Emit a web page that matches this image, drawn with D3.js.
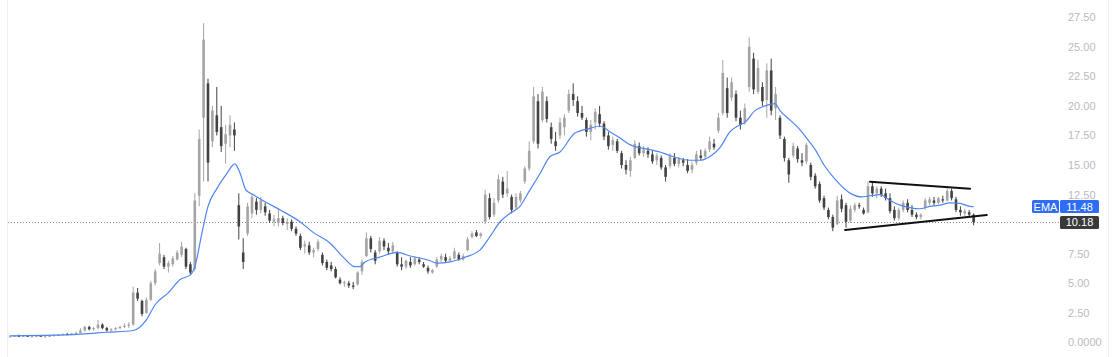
<!DOCTYPE html>
<html><head><meta charset="utf-8">
<script src="https://cdn.jsdelivr.net/npm/d3@7"></script>
<style>html,body{margin:0;padding:0;background:#fff;}svg{display:block;font-family:"Liberation Sans",Arial,sans-serif;}</style>
</head><body><svg id="c" width="1118" height="357"></svg>
<script>
const opens = [
.45,.5,.55,.5,.55,.5,.5,.55,.5,.5,
.55,.6,.65,.7,.65,.75,.8,1.0,1.3,1.1,
1.2,1.5,1.2,1.0,1.1,1.2,1.3,1.4,1.5,4.2,
3.5,2.5,3.6,5.0,6.7,7.2,6.4,6.6,7.0,7.4,
7.9,6.6,6.2,12.4,19.0,21.9,17.0,19.2,18.2,16.8,
17.5,18.0,11.6,7.6,9.2,10.9,11.9,11.2,11.5,10.9,
10.2,10.1,10.5,10.0,10.2,9.6,9.0,8.1,8.2,7.6,
7.9,7.4,6.8,6.5,6.2,5.3,5.0,5.0,4.8,4.9,
6.0,7.3,8.8,7.6,7.7,8.6,8.0,7.7,7.6,6.6,
6.4,6.8,6.6,7.0,6.6,6.3,5.9,6.4,7.0,7.2,
6.9,7.1,7.4,7.0,7.8,8.9,9.3,9.0,10.2,12.2,
10.8,12.0,13.6,12.6,12.3,11.4,12.0,13.6,14.7,17.0,
20.4,18.8,20.4,18.2,17.0,17.5,18.2,19.6,21.0,20.4,
19.4,18.8,17.8,18.6,19.3,18.5,17.5,16.7,17.0,16.0,
15.0,14.5,15.6,16.6,16.0,16.2,15.9,15.4,15.6,14.8,
14.9,15.6,15.1,15.4,15.0,14.6,15.2,15.8,15.7,16.3,
16.8,17.9,19.4,21.5,20.7,21.0,19.0,18.6,21.6,24.0,
21.2,21.6,20.5,23.0,19.8,19.0,17.2,15.4,15.8,16.4,
15.4,15.3,15.0,14.1,13.4,12.2,11.2,10.6,10.0,12.1,
11.6,10.3,11.2,11.6,11.2,11.0,13.2,12.6,13.0,12.6,
12.2,11.2,10.5,11.2,11.8,11.2,10.8,10.6,11.4,11.8,
12.0,11.8,12.1,12.0,12.8,12.1,11.2,10.9,11.0,10.8];
const highs = [
.6,.6,.65,.6,.6,.55,.6,.6,.55,.6,
.65,.7,.75,.8,.8,.9,1.2,1.4,1.4,1.3,
1.9,1.6,1.3,1.2,1.3,1.4,1.6,1.7,4.7,4.6,
3.6,3.8,5.2,6.2,8.4,7.4,6.9,7.3,7.8,8.5,
8.0,6.8,12.6,18.0,27.0,22.3,20.0,21.6,20.0,18.4,
19.2,18.6,12.6,8.8,11.8,12.6,12.2,12.3,11.8,11.2,
10.8,11.3,10.7,10.5,10.4,9.8,9.2,8.6,8.5,8.0,
8.7,7.6,7.0,6.8,6.4,5.5,5.2,5.2,5.1,6.0,
7.0,9.3,9.0,7.8,8.9,8.8,8.4,8.5,7.7,7.2,
7.0,7.2,7.3,7.2,6.8,6.5,6.2,7.2,7.5,7.5,
7.3,8.0,7.6,7.5,8.9,9.4,9.5,9.3,12.9,12.6,
12.2,14.2,14.0,14.5,12.5,12.6,12.8,14.9,17.0,21.6,
21.0,21.6,20.8,18.6,17.8,19.0,19.3,21.4,21.9,20.8,
20.0,19.0,18.8,19.8,20.0,18.7,17.8,17.4,17.2,16.2,
15.4,15.7,17.1,16.9,16.6,16.5,16.2,16.0,15.8,15.0,
16.0,16.0,15.7,15.6,15.5,15.3,16.2,16.3,16.4,17.4,
17.2,19.4,23.9,22.4,22.4,21.3,19.6,20.2,25.8,24.5,
23.9,22.0,23.6,24.0,21.6,19.2,17.4,15.6,16.9,16.6,
16.0,16.9,15.2,14.3,13.6,12.4,11.4,10.8,12.4,12.5,
11.8,11.6,11.8,11.8,11.4,13.6,13.5,13.2,13.2,13.0,
12.6,11.5,11.4,12.0,12.1,11.6,11.0,10.9,12.2,12.3,
12.3,12.3,12.4,13.0,13.0,12.3,11.5,11.3,11.2,10.9];
const lows = [
.4,.45,.5,.45,.45,.45,.45,.5,.45,.45,
.5,.55,.6,.6,.6,.7,.75,.9,1.0,1.0,
1.1,1.1,.9,.9,1.0,1.1,1.2,1.2,1.4,3.5,
2.2,2.4,3.5,4.8,6.5,6.2,5.9,6.4,6.9,7.2,
6.2,5.7,6.0,11.5,13.6,13.6,16.5,17.5,16.1,15.1,
16.5,16.2,8.7,6.2,9.0,10.5,10.8,10.9,10.7,10.1,
9.8,9.8,9.9,9.5,9.4,9.0,7.8,7.5,7.4,7.2,
7.7,6.5,6.1,6.0,5.4,4.9,4.7,4.6,4.5,4.8,
5.7,7.2,7.6,6.6,7.5,7.8,7.4,7.5,6.4,6.1,
6.2,6.3,6.5,6.6,6.3,5.8,5.8,6.3,6.8,6.7,
6.8,7.0,6.9,6.9,7.7,8.8,8.9,8.8,10.0,10.4,
10.6,11.8,12.2,12.3,10.9,11.2,11.8,13.4,14.5,16.8,
16.4,18.6,18.6,16.8,16.2,17.2,17.5,19.4,20.0,19.1,
18.8,17.4,17.1,18.0,18.2,17.1,16.3,16.2,16.0,14.7,
14.2,14.0,15.5,15.8,15.7,15.6,15.1,15.0,14.6,13.6,
14.7,14.9,14.8,14.9,14.3,14.3,15.0,15.4,15.5,16.1,
16.3,17.7,19.2,19.0,20.4,18.7,18.0,18.4,21.2,21.0,
21.0,20.0,19.0,19.2,18.8,17.2,15.3,13.5,15.6,15.2,
14.9,15.1,13.7,13.0,11.8,11.2,10.4,9.4,9.9,11.0,
9.7,10.1,11.0,11.3,10.8,10.9,12.3,12.2,12.3,12.0,
10.9,10.3,10.3,11.0,11.0,10.6,10.4,10.4,11.2,11.6,
11.6,11.7,11.8,11.9,12.0,11.0,10.7,10.7,10.6,9.9];
const closes = [
.5,.55,.5,.55,.5,.5,.55,.5,.5,.55,
.6,.65,.7,.65,.75,.8,1.0,1.3,1.1,1.2,
1.5,1.2,1.0,1.1,1.2,1.3,1.4,1.5,4.2,3.7,
2.4,3.6,5.0,6.0,7.5,6.4,6.7,7.1,7.6,8.1,
6.4,5.9,12.0,17.2,25.6,15.2,19.6,17.8,16.6,17.6,
18.4,17.5,9.8,6.8,11.5,12.3,11.2,12.0,11.0,10.3,
10.4,10.5,10.1,10.2,9.6,9.2,8.0,8.3,7.6,7.8,
8.5,6.7,6.3,6.2,5.5,5.0,5.1,4.8,4.7,5.9,
6.8,8.8,7.9,6.9,8.6,8.1,7.7,8.2,6.6,6.4,
6.9,6.5,7.1,6.8,6.4,6.0,6.1,7.0,7.3,6.9,
7.1,7.7,7.0,7.3,8.7,9.2,9.0,9.2,12.5,10.6,
11.8,13.8,12.5,13.0,11.2,12.3,12.6,14.7,16.2,20.8,
16.8,21.2,18.9,17.2,16.6,18.6,19.0,21.0,20.5,19.4,
19.0,17.8,18.4,19.5,18.5,17.4,16.6,17.1,16.2,15.0,
14.6,15.4,16.8,16.0,16.3,15.9,15.3,15.8,14.8,14.0,
15.8,15.1,15.5,15.2,14.5,15.0,15.9,15.6,16.2,17.0,
16.5,19.0,22.8,19.4,22.0,19.0,18.4,19.8,25.0,21.4,
23.2,20.4,23.0,19.6,21.0,17.5,15.6,14.2,16.6,15.5,
15.2,16.7,14.0,13.2,12.0,11.4,10.6,9.7,12.0,11.3,
10.2,11.3,11.6,11.5,10.9,13.2,12.6,13.0,12.5,12.2,
11.1,10.5,11.2,11.8,11.2,10.8,10.6,10.8,12.0,12.1,
11.8,12.2,12.0,12.8,12.2,11.2,11.0,11.1,10.8,10.18];

// EMA readings: candle index and value
const emaIndex = [0,10,16,22,28,31,33,36,38.6,41,42,43.6,45,47,49.3,51.1,52.3,53.6,55.2,58.4,61.4,65.9,68.9,72.7,76,78.4,79.5,80.7,84,88,91,95.5,97,100,103.4,106.8,109,111.4,113.6,115.9,117.7,120.5,122.7,125,128.4,131.8,134,136.4,138.6,141,145.5,147.7,150,154.5,156.8,159,161.4,163.6,165.9,167,169.3,171.6,173.9,175,177.3,179.5,181,183,185,187.5,191,193.6,195.5,197.7,200,202.3,204.5,206.8,209,211.4,213.6,215.9,218.2,219];
const emaValue = [0.55,0.6,0.7,0.85,1.0,1.9,3.2,4.2,5.3,5.7,6.4,9.2,11.5,13.0,14.3,15.1,14.3,12.9,12.5,11.8,11.2,10.2,9.3,8.4,7.1,6.4,6.4,6.8,7.2,7.6,7.3,6.9,6.7,6.8,7.2,7.8,8.9,10.2,10.9,11.5,12.6,14.3,15.7,16.1,17.7,18.1,18.3,17.8,17.3,16.7,16.3,16.1,15.8,15.4,15.4,15.7,16.5,17.8,18.4,18.6,19.6,20.0,20.2,19.6,18.8,18.0,17.3,16.3,15.0,13.8,12.6,12.3,12.4,12.5,12.0,11.6,11.4,11.3,11.5,11.6,11.8,11.75,11.5,11.48];

// Triangle trend lines (candle index, price)
const upperLineIndex = [195.45, 218.2];
const upperLineValue = [13.58, 13.0];
const lowerLineIndex = [189.8, 222];
const lowerLineValue = [9.5, 10.77];

// 10.00 is hidden behind the last-price tag in the reference
const yTicks = [0,2.5,5,7.5,12.5,15,17.5,20,22.5,25,27.5];
const yTickLabels = ["0.0000","2.50","5.00","7.50","12.50","15.00","17.50","20.00","22.50","25.00","27.50"];
const lastPrice = 10.18;
const emaLast = 11.48;

const svg = d3.select("#c");
const x = d3.scaleLinear().domain([0, closes.length-1]).range([10, 973.6]);
const y = d3.scaleLinear().domain([0, 27.5]).range([342.3, 17.25]);

// frame lines
svg.append("line").attr("x1",7.5).attr("x2",7.5).attr("y1",0).attr("y2",357).attr("stroke","#f0f0f0");
svg.append("line").attr("x1",1108.5).attr("x2",1108.5).attr("y1",0).attr("y2",357).attr("stroke","#f0f0f0");

// y axis labels
const axis = d3.axisRight(y).tickValues(yTicks).tickFormat((d,i)=>yTickLabels[i]).tickSize(0).tickPadding(0);
const ag = svg.append("g").attr("transform","translate(1068,0)").call(axis);
ag.select(".domain").remove();
ag.selectAll("text").attr("fill","#b8bbc2").style("font-size","11px").attr("x",0);

// last price dotted line
svg.append("line").attr("x1",8).attr("x2",1060).attr("y1",Math.round(y(lastPrice))+0.5).attr("y2",Math.round(y(lastPrice))+0.5)
  .attr("stroke","#8a8a8a").attr("stroke-width",1).attr("stroke-dasharray","1,2");

const idx = d3.range(closes.length);
const up = "#a4a4a4", down = "#424242";
const cg = svg.append("g");
cg.selectAll("line.w").data(idx).join("line").attr("class","w")
  .attr("x1",i=>x(i)).attr("x2",i=>x(i))
  .attr("y1",i=>y(highs[i])).attr("y2",i=>y(lows[i]))
  .attr("stroke",i=>closes[i]>=opens[i]?up:down).attr("stroke-width",1);
const bw = 2.6;
cg.selectAll("rect.b").data(idx).join("rect").attr("class","b")
  .attr("x",i=>x(i)-bw/2).attr("width",bw)
  .attr("y",i=>y(Math.max(opens[i],closes[i])))
  .attr("height",i=>Math.max(1,Math.abs(y(opens[i])-y(closes[i]))))
  .attr("fill",i=>closes[i]>=opens[i]?up:down);

// EMA line
const emaPts = emaIndex.map((d,i)=>[d, emaValue[i]]);
svg.append("path").datum(emaPts)
  .attr("d", d3.line().x(d=>x(d[0])).y(d=>y(d[1])).curve(d3.curveMonotoneX))
  .attr("fill","none").attr("stroke","#4f86f0").attr("stroke-width",1.2);

// triangle lines
[[upperLineIndex,upperLineValue],[lowerLineIndex,lowerLineValue]].forEach(([ix,vv])=>{
  svg.append("line").attr("x1",x(ix[0])).attr("x2",x(ix[1])).attr("y1",y(vv[0])).attr("y2",y(vv[1]))
    .attr("stroke","#111").attr("stroke-width",2).attr("stroke-linecap","round");
});

// labels
function tag(x0, w, yc, fill, text, anchorX) {
  svg.append("rect").attr("x",x0).attr("y",yc-6.5).attr("width",w).attr("height",13).attr("rx",1.5).attr("fill",fill);
  svg.append("text").attr("x",anchorX).attr("y",yc).attr("dy","0.36em").attr("text-anchor","middle")
    .attr("fill","#fff").style("font-size","11px").text(text);
}
const ye = y(emaLast);
tag(1032, 27, ye, "#2f6df6", "EMA", 1045.5);
tag(1060, 39, ye, "#2f6df6", emaLast.toFixed(2), 1079.5);
tag(1060, 39, y(lastPrice)+0.5, "#3a3a3a", lastPrice.toFixed(2), 1079.5);
</script></body></html>
